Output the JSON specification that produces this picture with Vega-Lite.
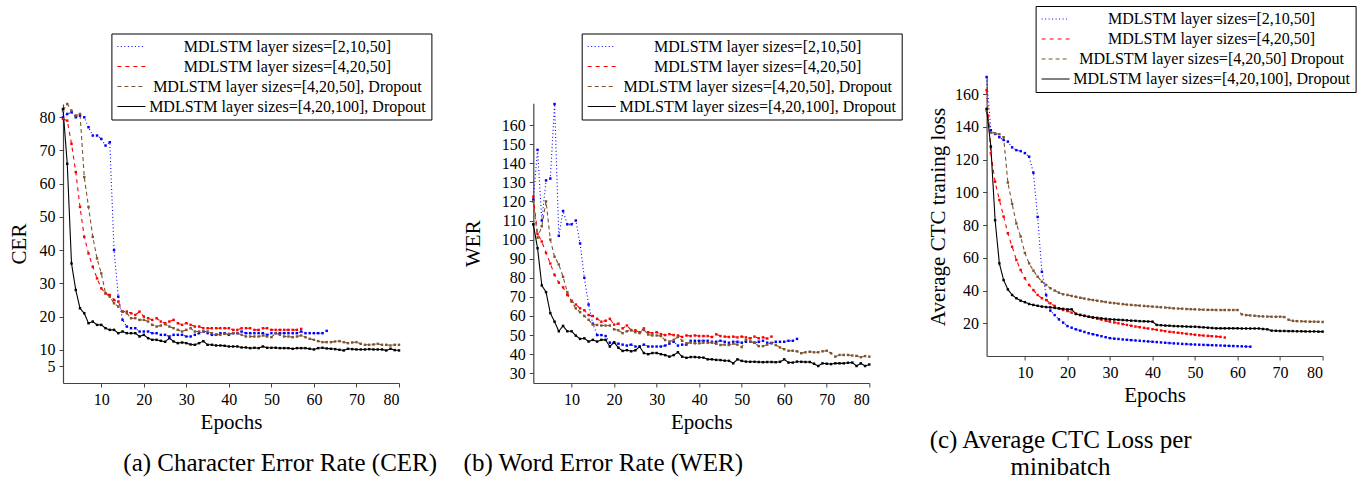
{
"$schema":"https://vega.github.io/schema/vega-lite/v6.json",
"padding":{"left":8,"top":5,"right":5,"bottom":5},
"config":{
 "font":"Liberation Serif",
 "view":{"stroke":null},
 "style":{"guide-label":{"font":"Liberation Serif","fontSize":16,"fill":"#000"},"guide-title":{"font":"Liberation Serif","fontSize":21,"fontWeight":"normal","fill":"#000"}},
 "axis":{"grid":false,"domain":true,"domainColor":"#444","domainWidth":1.2,"labelFont":"Liberation Serif","labelFontSize":16,"labelColor":"#000","titleFont":"Liberation Serif","titleFontSize":21,"titleFontWeight":"normal","titleColor":"#000","tickColor":"#444","tickSize":4,"tickWidth":1,"labelPadding":4},
 "legend":{"labelFont":"Liberation Serif"},
 "title":{"font":"Liberation Serif","fontSize":25,"fontWeight":"normal","color":"#000"}
},
"datasets":{
"a":[
{"k":"A","e":1,"v":80},{"k":"A","e":2,"v":81},{"k":"A","e":3,"v":81.5},{"k":"A","e":4,"v":80},{"k":"A","e":5,"v":80.5},{"k":"A","e":6,"v":80},{"k":"A","e":7,"v":77},{"k":"A","e":8,"v":74.5},{"k":"A","e":9,"v":74.5},{"k":"A","e":10,"v":73.5},
{"k":"A","e":11,"v":71.5},{"k":"A","e":12,"v":72.5},{"k":"A","e":13,"v":40},{"k":"A","e":14,"v":26},{"k":"A","e":15,"v":19},{"k":"A","e":16,"v":17},{"k":"A","e":17,"v":16.5},{"k":"A","e":18,"v":16.5},{"k":"A","e":19,"v":15.5},{"k":"A","e":20,"v":15.5},
{"k":"A","e":21,"v":15.5},{"k":"A","e":22,"v":15},{"k":"A","e":23,"v":15},{"k":"A","e":24,"v":14.5},{"k":"A","e":25,"v":14.5},{"k":"A","e":26,"v":14},{"k":"A","e":27,"v":14.5},{"k":"A","e":28,"v":14.5},{"k":"A","e":29,"v":14.5},{"k":"A","e":30,"v":14},
{"k":"A","e":31,"v":14},{"k":"A","e":32,"v":14.5},{"k":"A","e":33,"v":15},{"k":"A","e":34,"v":15.5},{"k":"A","e":35,"v":15},{"k":"A","e":36,"v":14.5},{"k":"A","e":37,"v":14.5},{"k":"A","e":38,"v":15},{"k":"A","e":39,"v":15},{"k":"A","e":40,"v":14.5},
{"k":"A","e":41,"v":15},{"k":"A","e":42,"v":15},{"k":"A","e":43,"v":15.5},{"k":"A","e":44,"v":15},{"k":"A","e":45,"v":15},{"k":"A","e":46,"v":15},{"k":"A","e":47,"v":15},{"k":"A","e":48,"v":15},{"k":"A","e":49,"v":14.5},{"k":"A","e":50,"v":15},
{"k":"A","e":51,"v":15},{"k":"A","e":52,"v":15},{"k":"A","e":53,"v":15},{"k":"A","e":54,"v":15},{"k":"A","e":55,"v":15},{"k":"A","e":56,"v":15},{"k":"A","e":57,"v":15.5},{"k":"A","e":58,"v":15},{"k":"A","e":59,"v":15},{"k":"A","e":60,"v":15},
{"k":"A","e":61,"v":15},{"k":"A","e":62,"v":15},{"k":"A","e":63,"v":15.7},
{"k":"B","e":1,"v":79.5},{"k":"B","e":2,"v":79},{"k":"B","e":3,"v":72},{"k":"B","e":4,"v":63.5},{"k":"B","e":5,"v":53},{"k":"B","e":6,"v":44},{"k":"B","e":7,"v":39},{"k":"B","e":8,"v":35},{"k":"B","e":9,"v":31.5},{"k":"B","e":10,"v":28.5},
{"k":"B","e":11,"v":27},{"k":"B","e":12,"v":26.5},{"k":"B","e":13,"v":25},{"k":"B","e":14,"v":24.5},{"k":"B","e":15,"v":21.5},{"k":"B","e":16,"v":21.5},{"k":"B","e":17,"v":21},{"k":"B","e":18,"v":20.5},{"k":"B","e":19,"v":21.5},{"k":"B","e":20,"v":20},
{"k":"B","e":21,"v":19.5},{"k":"B","e":22,"v":19},{"k":"B","e":23,"v":19.5},{"k":"B","e":24,"v":18.5},{"k":"B","e":25,"v":18},{"k":"B","e":26,"v":18.5},{"k":"B","e":27,"v":19},{"k":"B","e":28,"v":18},{"k":"B","e":29,"v":17.5},{"k":"B","e":30,"v":18},
{"k":"B","e":31,"v":17.5},{"k":"B","e":32,"v":17},{"k":"B","e":33,"v":17},{"k":"B","e":34,"v":16.5},{"k":"B","e":35,"v":16.5},{"k":"B","e":36,"v":16.5},{"k":"B","e":37,"v":16.5},{"k":"B","e":38,"v":16.5},{"k":"B","e":39,"v":16.5},{"k":"B","e":40,"v":16.5},
{"k":"B","e":41,"v":16},{"k":"B","e":42,"v":16},{"k":"B","e":43,"v":16.5},{"k":"B","e":44,"v":16.5},{"k":"B","e":45,"v":16.5},{"k":"B","e":46,"v":16},{"k":"B","e":47,"v":16},{"k":"B","e":48,"v":16.5},{"k":"B","e":49,"v":16.5},{"k":"B","e":50,"v":16},
{"k":"B","e":51,"v":16},{"k":"B","e":52,"v":16},{"k":"B","e":53,"v":16},{"k":"B","e":54,"v":16},{"k":"B","e":55,"v":16},{"k":"B","e":56,"v":16},{"k":"B","e":57,"v":16.3},
{"k":"C","e":1,"v":82},{"k":"C","e":2,"v":84},{"k":"C","e":3,"v":82},{"k":"C","e":4,"v":80.5},{"k":"C","e":5,"v":81},{"k":"C","e":6,"v":62},{"k":"C","e":7,"v":53},{"k":"C","e":8,"v":44},{"k":"C","e":9,"v":37.5},{"k":"C","e":10,"v":33},
{"k":"C","e":11,"v":27},{"k":"C","e":12,"v":26},{"k":"C","e":13,"v":24},{"k":"C","e":14,"v":23},{"k":"C","e":15,"v":21.5},{"k":"C","e":16,"v":21},{"k":"C","e":17,"v":19.5},{"k":"C","e":18,"v":19.5},{"k":"C","e":19,"v":19},{"k":"C","e":20,"v":19},
{"k":"C","e":21,"v":18.5},{"k":"C","e":22,"v":17.5},{"k":"C","e":23,"v":17},{"k":"C","e":24,"v":17.3},{"k":"C","e":25,"v":17.7},{"k":"C","e":26,"v":17},{"k":"C","e":27,"v":16.5},{"k":"C","e":28,"v":16},{"k":"C","e":29,"v":15.5},{"k":"C","e":30,"v":16},
{"k":"C","e":31,"v":16.5},{"k":"C","e":32,"v":15.5},{"k":"C","e":33,"v":15.5},{"k":"C","e":34,"v":15.5},{"k":"C","e":35,"v":15.5},{"k":"C","e":36,"v":15},{"k":"C","e":37,"v":14.6},{"k":"C","e":38,"v":14.5},{"k":"C","e":39,"v":14.8},{"k":"C","e":40,"v":14.8},
{"k":"C","e":41,"v":15},{"k":"C","e":42,"v":15},{"k":"C","e":43,"v":14.5},{"k":"C","e":44,"v":14},{"k":"C","e":45,"v":14},{"k":"C","e":46,"v":14},{"k":"C","e":47,"v":14},{"k":"C","e":48,"v":14.3},{"k":"C","e":49,"v":14},{"k":"C","e":50,"v":13.8},
{"k":"C","e":51,"v":15},{"k":"C","e":52,"v":14.5},{"k":"C","e":53,"v":14},{"k":"C","e":54,"v":14},{"k":"C","e":55,"v":13.8},{"k":"C","e":56,"v":14},{"k":"C","e":57,"v":14.3},{"k":"C","e":58,"v":13.8},{"k":"C","e":59,"v":13.3},{"k":"C","e":60,"v":13},
{"k":"C","e":61,"v":12.6},{"k":"C","e":62,"v":12.3},{"k":"C","e":63,"v":12.3},{"k":"C","e":64,"v":12.3},{"k":"C","e":65,"v":12.5},{"k":"C","e":66,"v":12.6},{"k":"C","e":67,"v":12.3},{"k":"C","e":68,"v":12},{"k":"C","e":69,"v":12.2},{"k":"C","e":70,"v":12.3},
{"k":"C","e":71,"v":11.8},{"k":"C","e":72,"v":11.5},{"k":"C","e":73,"v":11.5},{"k":"C","e":74,"v":11.6},{"k":"C","e":75,"v":11.8},{"k":"C","e":76,"v":11.5},{"k":"C","e":77,"v":11.5},{"k":"C","e":78,"v":11.3},{"k":"C","e":79,"v":11.5},{"k":"C","e":80,"v":11.5},
{"k":"D","e":1,"v":82.5},{"k":"D","e":2,"v":66},{"k":"D","e":3,"v":36},{"k":"D","e":4,"v":28},{"k":"D","e":5,"v":22.5},{"k":"D","e":6,"v":21},{"k":"D","e":7,"v":18},{"k":"D","e":8,"v":18.5},{"k":"D","e":9,"v":17.5},{"k":"D","e":10,"v":17.5},
{"k":"D","e":11,"v":16.5},{"k":"D","e":12,"v":16},{"k":"D","e":13,"v":16},{"k":"D","e":14,"v":15},{"k":"D","e":15,"v":15.5},{"k":"D","e":16,"v":15},{"k":"D","e":17,"v":15},{"k":"D","e":18,"v":15},{"k":"D","e":19,"v":14},{"k":"D","e":20,"v":14.5},
{"k":"D","e":21,"v":13.5},{"k":"D","e":22,"v":13},{"k":"D","e":23,"v":13},{"k":"D","e":24,"v":12.7},{"k":"D","e":25,"v":12.4},{"k":"D","e":26,"v":13.5},{"k":"D","e":27,"v":12.5},{"k":"D","e":28,"v":12},{"k":"D","e":29,"v":12.2},{"k":"D","e":30,"v":12},
{"k":"D","e":31,"v":11.6},{"k":"D","e":32,"v":11.5},{"k":"D","e":33,"v":12},{"k":"D","e":34,"v":12.6},{"k":"D","e":35,"v":11.5},{"k":"D","e":36,"v":11.5},{"k":"D","e":37,"v":11.3},{"k":"D","e":38,"v":11.3},{"k":"D","e":39,"v":11.2},{"k":"D","e":40,"v":11},
{"k":"D","e":41,"v":11},{"k":"D","e":42,"v":11},{"k":"D","e":43,"v":10.7},{"k":"D","e":44,"v":10.7},{"k":"D","e":45,"v":10.5},{"k":"D","e":46,"v":10.6},{"k":"D","e":47,"v":10.5},{"k":"D","e":48,"v":11},{"k":"D","e":49,"v":10.6},{"k":"D","e":50,"v":10.6},
{"k":"D","e":51,"v":10.6},{"k":"D","e":52,"v":10.5},{"k":"D","e":53,"v":10.5},{"k":"D","e":54,"v":10.5},{"k":"D","e":55,"v":10.3},{"k":"D","e":56,"v":10.5},{"k":"D","e":57,"v":10.5},{"k":"D","e":58,"v":10.5},{"k":"D","e":59,"v":10.3},{"k":"D","e":60,"v":10.1},
{"k":"D","e":61,"v":10.5},{"k":"D","e":62,"v":10.6},{"k":"D","e":63,"v":10.4},{"k":"D","e":64,"v":10.3},{"k":"D","e":65,"v":10.2},{"k":"D","e":66,"v":10},{"k":"D","e":67,"v":9.8},{"k":"D","e":68,"v":10.3},{"k":"D","e":69,"v":10.2},{"k":"D","e":70,"v":10.1},
{"k":"D","e":71,"v":10.1},{"k":"D","e":72,"v":10.1},{"k":"D","e":73,"v":10.2},{"k":"D","e":74,"v":10.1},{"k":"D","e":75,"v":10.1},{"k":"D","e":76,"v":10.1},{"k":"D","e":77,"v":9.8},{"k":"D","e":78,"v":10.3},{"k":"D","e":79,"v":9.9},{"k":"D","e":80,"v":9.8}
],
"b":[
{"k":"A","e":1,"v":121},{"k":"A","e":2,"v":147},{"k":"A","e":3,"v":110},{"k":"A","e":4,"v":131},{"k":"A","e":5,"v":132},{"k":"A","e":6,"v":171},{"k":"A","e":7,"v":102},{"k":"A","e":8,"v":115},{"k":"A","e":9,"v":108},{"k":"A","e":10,"v":108},
{"k":"A","e":11,"v":110},{"k":"A","e":12,"v":98},{"k":"A","e":13,"v":80},{"k":"A","e":14,"v":66},{"k":"A","e":15,"v":56},{"k":"A","e":16,"v":50},{"k":"A","e":17,"v":50},{"k":"A","e":18,"v":49.5},{"k":"A","e":19,"v":46},{"k":"A","e":20,"v":46},
{"k":"A","e":21,"v":45.5},{"k":"A","e":22,"v":45},{"k":"A","e":23,"v":44.5},{"k":"A","e":24,"v":45},{"k":"A","e":25,"v":44},{"k":"A","e":26,"v":44},{"k":"A","e":27,"v":45},{"k":"A","e":28,"v":44},{"k":"A","e":29,"v":44},{"k":"A","e":30,"v":44},
{"k":"A","e":31,"v":44},{"k":"A","e":32,"v":44.5},{"k":"A","e":33,"v":45.5},{"k":"A","e":34,"v":46.5},{"k":"A","e":35,"v":44.5},{"k":"A","e":36,"v":45},{"k":"A","e":37,"v":45},{"k":"A","e":38,"v":47},{"k":"A","e":39,"v":47},{"k":"A","e":40,"v":47},
{"k":"A","e":41,"v":47},{"k":"A","e":42,"v":47},{"k":"A","e":43,"v":46.5},{"k":"A","e":44,"v":46.5},{"k":"A","e":45,"v":47},{"k":"A","e":46,"v":46.5},{"k":"A","e":47,"v":46},{"k":"A","e":48,"v":46.5},{"k":"A","e":49,"v":46.5},{"k":"A","e":50,"v":46},
{"k":"A","e":51,"v":46.5},{"k":"A","e":52,"v":46.5},{"k":"A","e":53,"v":46},{"k":"A","e":54,"v":46.5},{"k":"A","e":55,"v":47},{"k":"A","e":56,"v":46},{"k":"A","e":57,"v":45.7},{"k":"A","e":58,"v":46.5},{"k":"A","e":59,"v":46.5},{"k":"A","e":60,"v":46.5},
{"k":"A","e":61,"v":47},{"k":"A","e":62,"v":47},{"k":"A","e":63,"v":48},
{"k":"B","e":1,"v":122.5},{"k":"B","e":2,"v":103},{"k":"B","e":3,"v":99},{"k":"B","e":4,"v":93},{"k":"B","e":5,"v":87.5},{"k":"B","e":6,"v":81.5},{"k":"B","e":7,"v":77.5},{"k":"B","e":8,"v":75},{"k":"B","e":9,"v":71},{"k":"B","e":10,"v":68},
{"k":"B","e":11,"v":66},{"k":"B","e":12,"v":64},{"k":"B","e":13,"v":63},{"k":"B","e":14,"v":60.5},{"k":"B","e":15,"v":60},{"k":"B","e":16,"v":58.5},{"k":"B","e":17,"v":57},{"k":"B","e":18,"v":57.5},{"k":"B","e":19,"v":58.5},{"k":"B","e":20,"v":55.5},
{"k":"B","e":21,"v":56},{"k":"B","e":22,"v":53.5},{"k":"B","e":23,"v":55},{"k":"B","e":24,"v":52.5},{"k":"B","e":25,"v":52.5},{"k":"B","e":26,"v":51.5},{"k":"B","e":27,"v":53.5},{"k":"B","e":28,"v":51.5},{"k":"B","e":29,"v":51},{"k":"B","e":30,"v":51.5},
{"k":"B","e":31,"v":50.5},{"k":"B","e":32,"v":50},{"k":"B","e":33,"v":50.5},{"k":"B","e":34,"v":50},{"k":"B","e":35,"v":49.8},{"k":"B","e":36,"v":49},{"k":"B","e":37,"v":49.8},{"k":"B","e":38,"v":49.5},{"k":"B","e":39,"v":49.8},{"k":"B","e":40,"v":49.5},
{"k":"B","e":41,"v":49.5},{"k":"B","e":42,"v":49.5},{"k":"B","e":43,"v":49},{"k":"B","e":44,"v":50.4},{"k":"B","e":45,"v":49.5},{"k":"B","e":46,"v":49.2},{"k":"B","e":47,"v":49},{"k":"B","e":48,"v":49.2},{"k":"B","e":49,"v":48.8},{"k":"B","e":50,"v":49.2},
{"k":"B","e":51,"v":48.8},{"k":"B","e":52,"v":48.3},{"k":"B","e":53,"v":49.2},{"k":"B","e":54,"v":48.3},{"k":"B","e":55,"v":48.8},{"k":"B","e":56,"v":48.2},{"k":"B","e":57,"v":49.2},
{"k":"C","e":1,"v":120},{"k":"C","e":2,"v":101},{"k":"C","e":3,"v":107},{"k":"C","e":4,"v":120},{"k":"C","e":5,"v":100},{"k":"C","e":6,"v":91},{"k":"C","e":7,"v":87},{"k":"C","e":8,"v":80.5},{"k":"C","e":9,"v":72.5},{"k":"C","e":10,"v":67.5},
{"k":"C","e":11,"v":64},{"k":"C","e":12,"v":62},{"k":"C","e":13,"v":60},{"k":"C","e":14,"v":58},{"k":"C","e":15,"v":55.5},{"k":"C","e":16,"v":55.3},{"k":"C","e":17,"v":55},{"k":"C","e":18,"v":55},{"k":"C","e":19,"v":55},{"k":"C","e":20,"v":53},
{"k":"C","e":21,"v":52.5},{"k":"C","e":22,"v":51},{"k":"C","e":23,"v":52},{"k":"C","e":24,"v":52.7},{"k":"C","e":25,"v":51.5},{"k":"C","e":26,"v":51},{"k":"C","e":27,"v":52.7},{"k":"C","e":28,"v":50.3},{"k":"C","e":29,"v":49.8},{"k":"C","e":30,"v":49.8},
{"k":"C","e":31,"v":49.5},{"k":"C","e":32,"v":47.4},{"k":"C","e":33,"v":46.6},{"k":"C","e":34,"v":47.5},{"k":"C","e":35,"v":49},{"k":"C","e":36,"v":47},{"k":"C","e":37,"v":45.7},{"k":"C","e":38,"v":46},{"k":"C","e":39,"v":45.7},{"k":"C","e":40,"v":45.7},
{"k":"C","e":41,"v":46},{"k":"C","e":42,"v":46},{"k":"C","e":43,"v":46},{"k":"C","e":44,"v":45.5},{"k":"C","e":45,"v":44.8},{"k":"C","e":46,"v":45},{"k":"C","e":47,"v":44.8},{"k":"C","e":48,"v":45.5},{"k":"C","e":49,"v":45},{"k":"C","e":50,"v":43.7},
{"k":"C","e":51,"v":47.5},{"k":"C","e":52,"v":46.6},{"k":"C","e":53,"v":46},{"k":"C","e":54,"v":44.2},{"k":"C","e":55,"v":44.2},{"k":"C","e":56,"v":45},{"k":"C","e":57,"v":46},{"k":"C","e":58,"v":44.8},{"k":"C","e":59,"v":43.5},{"k":"C","e":60,"v":42.6},
{"k":"C","e":61,"v":41.8},{"k":"C","e":62,"v":41.8},{"k":"C","e":63,"v":41.5},{"k":"C","e":64,"v":40.5},{"k":"C","e":65,"v":41},{"k":"C","e":66,"v":41.3},{"k":"C","e":67,"v":41},{"k":"C","e":68,"v":41},{"k":"C","e":69,"v":41.5},{"k":"C","e":70,"v":41.8},
{"k":"C","e":71,"v":40.5},{"k":"C","e":72,"v":38.7},{"k":"C","e":73,"v":39.6},{"k":"C","e":74,"v":39.6},{"k":"C","e":75,"v":39.6},{"k":"C","e":76,"v":39.3},{"k":"C","e":77,"v":39.1},{"k":"C","e":78,"v":38.4},{"k":"C","e":79,"v":39},{"k":"C","e":80,"v":38.7},
{"k":"D","e":1,"v":108},{"k":"D","e":2,"v":95.5},{"k":"D","e":3,"v":76},{"k":"D","e":4,"v":72.5},{"k":"D","e":5,"v":61.5},{"k":"D","e":6,"v":57},{"k":"D","e":7,"v":52},{"k":"D","e":8,"v":54.8},{"k":"D","e":9,"v":52},{"k":"D","e":10,"v":52},
{"k":"D","e":11,"v":49.7},{"k":"D","e":12,"v":48},{"k":"D","e":13,"v":48.3},{"k":"D","e":14,"v":46.6},{"k":"D","e":15,"v":47.5},{"k":"D","e":16,"v":46.6},{"k":"D","e":17,"v":47.5},{"k":"D","e":18,"v":47.5},{"k":"D","e":19,"v":44},{"k":"D","e":20,"v":46.2},
{"k":"D","e":21,"v":43.4},{"k":"D","e":22,"v":41.7},{"k":"D","e":23,"v":42.1},{"k":"D","e":24,"v":41.5},{"k":"D","e":25,"v":42},{"k":"D","e":26,"v":43.9},{"k":"D","e":27,"v":40.6},{"k":"D","e":28,"v":40},{"k":"D","e":29,"v":40.6},{"k":"D","e":30,"v":40.6},
{"k":"D","e":31,"v":40},{"k":"D","e":32,"v":39.5},{"k":"D","e":33,"v":38.7},{"k":"D","e":34,"v":39.5},{"k":"D","e":35,"v":41},{"k":"D","e":36,"v":38.7},{"k":"D","e":37,"v":38.1},{"k":"D","e":38,"v":38.5},{"k":"D","e":39,"v":38.5},{"k":"D","e":40,"v":38.3},
{"k":"D","e":41,"v":38.2},{"k":"D","e":42,"v":37.3},{"k":"D","e":43,"v":37.3},{"k":"D","e":44,"v":37},{"k":"D","e":45,"v":36.9},{"k":"D","e":46,"v":36.6},{"k":"D","e":47,"v":36.5},{"k":"D","e":48,"v":35.2},{"k":"D","e":49,"v":37.3},{"k":"D","e":50,"v":36.5},
{"k":"D","e":51,"v":36.1},{"k":"D","e":52,"v":36},{"k":"D","e":53,"v":36},{"k":"D","e":54,"v":35.9},{"k":"D","e":55,"v":35.8},{"k":"D","e":56,"v":35.9},{"k":"D","e":57,"v":35.9},{"k":"D","e":58,"v":35.8},{"k":"D","e":59,"v":36},{"k":"D","e":60,"v":37.3},
{"k":"D","e":61,"v":35.6},{"k":"D","e":62,"v":35.6},{"k":"D","e":63,"v":36.1},{"k":"D","e":64,"v":36},{"k":"D","e":65,"v":35.9},{"k":"D","e":66,"v":35.9},{"k":"D","e":67,"v":35},{"k":"D","e":68,"v":33.8},{"k":"D","e":69,"v":35.2},{"k":"D","e":70,"v":35},
{"k":"D","e":71,"v":34.8},{"k":"D","e":72,"v":35.2},{"k":"D","e":73,"v":35.2},{"k":"D","e":74,"v":35.2},{"k":"D","e":75,"v":35.5},{"k":"D","e":76,"v":35.6},{"k":"D","e":77,"v":33.8},{"k":"D","e":78,"v":35.2},{"k":"D","e":79,"v":33.8},{"k":"D","e":80,"v":34.6}
],
"c":[
{"k":"A","e":1,"v":170.5},{"k":"A","e":2,"v":138},{"k":"A","e":3,"v":135.7},{"k":"A","e":4,"v":133.7},{"k":"A","e":5,"v":132},{"k":"A","e":6,"v":131},{"k":"A","e":7,"v":127.5},{"k":"A","e":8,"v":125.8},{"k":"A","e":9,"v":125.2},{"k":"A","e":10,"v":124},
{"k":"A","e":11,"v":121.8},{"k":"A","e":12,"v":112},{"k":"A","e":13,"v":85},{"k":"A","e":14,"v":51.5},{"k":"A","e":15,"v":37.3},{"k":"A","e":16,"v":27.7},{"k":"A","e":17,"v":25},{"k":"A","e":18,"v":22.4},{"k":"A","e":19,"v":20.4},{"k":"A","e":20,"v":18.3},
{"k":"A","e":21,"v":17.3},{"k":"A","e":22,"v":16.3},{"k":"A","e":23,"v":15.5},{"k":"A","e":24,"v":14.7},{"k":"A","e":25,"v":13.9},{"k":"A","e":26,"v":13.3},{"k":"A","e":27,"v":12.7},{"k":"A","e":28,"v":12.1},{"k":"A","e":29,"v":11.5},{"k":"A","e":30,"v":10.9},
{"k":"A","e":31,"v":10.6},{"k":"A","e":32,"v":10.4},{"k":"A","e":33,"v":10.1},{"k":"A","e":34,"v":9.9},{"k":"A","e":35,"v":9.7},{"k":"A","e":36,"v":9.5},{"k":"A","e":37,"v":9.3},{"k":"A","e":38,"v":9.1},{"k":"A","e":39,"v":8.9},{"k":"A","e":40,"v":8.7},
{"k":"A","e":41,"v":8.5},{"k":"A","e":42,"v":8.3},{"k":"A","e":43,"v":8.1},{"k":"A","e":44,"v":7.9},{"k":"A","e":45,"v":7.7},{"k":"A","e":46,"v":7.6},{"k":"A","e":47,"v":7.4},{"k":"A","e":48,"v":7.3},{"k":"A","e":49,"v":7.1},{"k":"A","e":50,"v":7},
{"k":"A","e":51,"v":6.9},{"k":"A","e":52,"v":6.8},{"k":"A","e":53,"v":6.7},{"k":"A","e":54,"v":6.6},{"k":"A","e":55,"v":6.5},{"k":"A","e":56,"v":6.4},{"k":"A","e":57,"v":6.3},{"k":"A","e":58,"v":6.2},{"k":"A","e":59,"v":6.1},{"k":"A","e":60,"v":6},
{"k":"A","e":61,"v":5.9},{"k":"A","e":62,"v":5.8},{"k":"A","e":63,"v":5.7},
{"k":"B","e":1,"v":162.5},{"k":"B","e":2,"v":124},{"k":"B","e":3,"v":106.5},{"k":"B","e":4,"v":95.4},{"k":"B","e":5,"v":85.2},{"k":"B","e":6,"v":75},{"k":"B","e":7,"v":66.8},{"k":"B","e":8,"v":58.7},{"k":"B","e":9,"v":52.6},{"k":"B","e":10,"v":47.5},
{"k":"B","e":11,"v":43.4},{"k":"B","e":12,"v":40.3},{"k":"B","e":13,"v":37.3},{"k":"B","e":14,"v":35.3},{"k":"B","e":15,"v":34.2},{"k":"B","e":16,"v":32.2},{"k":"B","e":17,"v":30.6},{"k":"B","e":18,"v":29.1},{"k":"B","e":19,"v":28.1},{"k":"B","e":20,"v":27.5},
{"k":"B","e":21,"v":26.5},{"k":"B","e":22,"v":25.8},{"k":"B","e":23,"v":25.2},{"k":"B","e":24,"v":24.6},{"k":"B","e":25,"v":24},{"k":"B","e":26,"v":23.4},{"k":"B","e":27,"v":22.8},{"k":"B","e":28,"v":22.2},{"k":"B","e":29,"v":21.6},{"k":"B","e":30,"v":21},
{"k":"B","e":31,"v":20.5},{"k":"B","e":32,"v":20},{"k":"B","e":33,"v":19.5},{"k":"B","e":34,"v":19},{"k":"B","e":35,"v":18.5},{"k":"B","e":36,"v":18},{"k":"B","e":37,"v":17.6},{"k":"B","e":38,"v":17.2},{"k":"B","e":39,"v":16.8},{"k":"B","e":40,"v":16.4},
{"k":"B","e":41,"v":16},{"k":"B","e":42,"v":15.6},{"k":"B","e":43,"v":15.2},{"k":"B","e":44,"v":14.8},{"k":"B","e":45,"v":14.5},{"k":"B","e":46,"v":14.2},{"k":"B","e":47,"v":13.9},{"k":"B","e":48,"v":13.6},{"k":"B","e":49,"v":13.3},{"k":"B","e":50,"v":13},
{"k":"B","e":51,"v":12.7},{"k":"B","e":52,"v":12.5},{"k":"B","e":53,"v":12.3},{"k":"B","e":54,"v":12.1},{"k":"B","e":55,"v":11.9},{"k":"B","e":56,"v":11.7},{"k":"B","e":57,"v":11.3},
{"k":"C","e":1,"v":150},{"k":"C","e":2,"v":136.5},{"k":"C","e":3,"v":136},{"k":"C","e":4,"v":135.5},{"k":"C","e":5,"v":133.7},{"k":"C","e":6,"v":106},{"k":"C","e":7,"v":93},{"k":"C","e":8,"v":81},{"k":"C","e":9,"v":73},{"k":"C","e":10,"v":63},
{"k":"C","e":11,"v":56.6},{"k":"C","e":12,"v":52.2},{"k":"C","e":13,"v":48.5},{"k":"C","e":14,"v":45.4},{"k":"C","e":15,"v":43.4},{"k":"C","e":16,"v":41.4},{"k":"C","e":17,"v":40},{"k":"C","e":18,"v":38.7},{"k":"C","e":19,"v":37.7},{"k":"C","e":20,"v":37.3},
{"k":"C","e":21,"v":36.7},{"k":"C","e":22,"v":36.2},{"k":"C","e":23,"v":35.6},{"k":"C","e":24,"v":35.1},{"k":"C","e":25,"v":34.6},{"k":"C","e":26,"v":34.2},{"k":"C","e":27,"v":33.8},{"k":"C","e":28,"v":33.4},{"k":"C","e":29,"v":33},{"k":"C","e":30,"v":32.6},
{"k":"C","e":31,"v":32.3},{"k":"C","e":32,"v":32},{"k":"C","e":33,"v":31.7},{"k":"C","e":34,"v":31.4},{"k":"C","e":35,"v":31.2},{"k":"C","e":36,"v":31},{"k":"C","e":37,"v":30.8},{"k":"C","e":38,"v":30.6},{"k":"C","e":39,"v":30.4},{"k":"C","e":40,"v":30.2},
{"k":"C","e":41,"v":30},{"k":"C","e":42,"v":29.8},{"k":"C","e":43,"v":29.6},{"k":"C","e":44,"v":29.4},{"k":"C","e":45,"v":29.1},{"k":"C","e":46,"v":29},{"k":"C","e":47,"v":28.9},{"k":"C","e":48,"v":28.7},{"k":"C","e":49,"v":28.6},{"k":"C","e":50,"v":28.5},
{"k":"C","e":51,"v":28.4},{"k":"C","e":52,"v":28.3},{"k":"C","e":53,"v":28.2},{"k":"C","e":54,"v":28.2},{"k":"C","e":55,"v":28.1},{"k":"C","e":56,"v":28.1},{"k":"C","e":57,"v":28.1},{"k":"C","e":58,"v":28.1},{"k":"C","e":59,"v":28.1},{"k":"C","e":60,"v":28.1},
{"k":"C","e":61,"v":25.5},{"k":"C","e":62,"v":25},{"k":"C","e":63,"v":24.8},{"k":"C","e":64,"v":24.6},{"k":"C","e":65,"v":24.3},{"k":"C","e":66,"v":24.2},{"k":"C","e":67,"v":24.1},{"k":"C","e":68,"v":24},{"k":"C","e":69,"v":24},{"k":"C","e":70,"v":24},
{"k":"C","e":71,"v":23.8},{"k":"C","e":72,"v":22.2},{"k":"C","e":73,"v":21.5},{"k":"C","e":74,"v":21.3},{"k":"C","e":75,"v":21.2},{"k":"C","e":76,"v":21.1},{"k":"C","e":77,"v":21},{"k":"C","e":78,"v":21},{"k":"C","e":79,"v":20.9},{"k":"C","e":80,"v":20.8},
{"k":"D","e":1,"v":151},{"k":"D","e":2,"v":128},{"k":"D","e":3,"v":83},{"k":"D","e":4,"v":56.6},{"k":"D","e":5,"v":46.4},{"k":"D","e":6,"v":40.7},{"k":"D","e":7,"v":37.3},{"k":"D","e":8,"v":35.3},{"k":"D","e":9,"v":33.8},{"k":"D","e":10,"v":32.9},
{"k":"D","e":11,"v":31.8},{"k":"D","e":12,"v":31.2},{"k":"D","e":13,"v":30.7},{"k":"D","e":14,"v":30.2},{"k":"D","e":15,"v":29.9},{"k":"D","e":16,"v":29.7},{"k":"D","e":17,"v":29.4},{"k":"D","e":18,"v":29.1},{"k":"D","e":19,"v":28.8},{"k":"D","e":20,"v":28.5},
{"k":"D","e":21,"v":28.5},{"k":"D","e":22,"v":25.7},{"k":"D","e":23,"v":25},{"k":"D","e":24,"v":24.5},{"k":"D","e":25,"v":24},{"k":"D","e":26,"v":23.6},{"k":"D","e":27,"v":23.3},{"k":"D","e":28,"v":23},{"k":"D","e":29,"v":22.7},{"k":"D","e":30,"v":22.4},
{"k":"D","e":31,"v":22.3},{"k":"D","e":32,"v":22.1},{"k":"D","e":33,"v":22},{"k":"D","e":34,"v":21.8},{"k":"D","e":35,"v":21.6},{"k":"D","e":36,"v":21.5},{"k":"D","e":37,"v":21.3},{"k":"D","e":38,"v":21.2},{"k":"D","e":39,"v":21.1},{"k":"D","e":40,"v":21},
{"k":"D","e":41,"v":19},{"k":"D","e":42,"v":18.8},{"k":"D","e":43,"v":18.6},{"k":"D","e":44,"v":18.5},{"k":"D","e":45,"v":18.3},{"k":"D","e":46,"v":18.2},{"k":"D","e":47,"v":18.1},{"k":"D","e":48,"v":18},{"k":"D","e":49,"v":17.9},{"k":"D","e":50,"v":17.9},
{"k":"D","e":51,"v":17.7},{"k":"D","e":52,"v":17.5},{"k":"D","e":53,"v":17.3},{"k":"D","e":54,"v":17.1},{"k":"D","e":55,"v":16.9},{"k":"D","e":56,"v":16.9},{"k":"D","e":57,"v":16.9},{"k":"D","e":58,"v":16.9},{"k":"D","e":59,"v":16.9},{"k":"D","e":60,"v":16.9},
{"k":"D","e":61,"v":16.8},{"k":"D","e":62,"v":16.8},{"k":"D","e":63,"v":16.8},{"k":"D","e":64,"v":16.8},{"k":"D","e":65,"v":16.8},{"k":"D","e":66,"v":16.5},{"k":"D","e":67,"v":16.3},{"k":"D","e":68,"v":15.5},{"k":"D","e":69,"v":15.4},{"k":"D","e":70,"v":15.3},
{"k":"D","e":71,"v":15.3},{"k":"D","e":72,"v":15.2},{"k":"D","e":73,"v":15.2},{"k":"D","e":74,"v":15.1},{"k":"D","e":75,"v":15.1},{"k":"D","e":76,"v":15},{"k":"D","e":77,"v":15},{"k":"D","e":78,"v":15},{"k":"D","e":79,"v":14.9},{"k":"D","e":80,"v":14.9}
]
},
"hconcat":[
{
 "width":352.4,"height":306,
 "data":{"name":"a"},
 "title":{"text":"(a) Character Error Rate (CER)","orient":"bottom","anchor":"middle","dx":41,"offset":19,"font":"Liberation Serif","fontSize":25},
 "encoding":{
  "x":{"field":"e","type":"quantitative","scale":{"domain":[1,80],"range":[0,336],"nice":false,"zero":false},"axis":{"values":[10,20,30,40,50,60,70,80],"title":"Epochs","labelFont":"Liberation Serif","titleFont":"Liberation Serif","labelFontSize":16,"titleFontSize":21}},
  "y":{"field":"v","type":"quantitative","scale":{"domain":[0,84],"range":[306,27],"nice":false,"zero":false},"axis":{"values":[5,10,20,30,40,50,60,70,80],"title":"CER","titlePadding":10,"labelFont":"Liberation Serif","titleFont":"Liberation Serif","labelFontSize":16,"titleFontSize":21}}
 },
 "layer":[
  {"mark":{"type":"line","strokeWidth":1.1},
   "encoding":{
    "color":{"field":"k","type":"nominal","scale":{"domain":["A","B","C","D"],"range":["#0000ff","#ff0000","#7f5530","#000000"]},
      "legend":{"orient":"none","legendX":48.4,"legendY":-43.5,"title":null,"symbolType":"M-1,0L3,0","symbolSize":196,"symbolStrokeWidth":1.2,"labelAlign":"center","labelOffset":155,"labelLimit":600,"labelFontSize":16,"labelFont":"Liberation Serif","labelColor":"#000","strokeColor":"#000","fillColor":"#fff","padding":5,"rowPadding":4,
      "labelExpr":"datum.label=='A'?'MDLSTM layer sizes=[2,10,50]':datum.label=='B'?'MDLSTM layer sizes=[4,20,50]':datum.label=='C'?'MDLSTM layer sizes=[4,20,50], Dropout':'MDLSTM layer sizes=[4,20,100], Dropout'"}},
    "strokeDash":{"field":"k","type":"nominal","scale":{"domain":["A","B","C","D"],"range":[[1,2.5],[4,4],[4,3],[1,0]]},
      "legend":{"orient":"none","legendX":48.4,"legendY":-43.5,"title":null,"symbolType":"M-1,0L3,0","symbolSize":196,"symbolStrokeWidth":1.2,"labelAlign":"center","labelOffset":155,"labelLimit":600,"labelFontSize":16,"labelFont":"Liberation Serif","labelColor":"#000","strokeColor":"#000","fillColor":"#fff","padding":5,"rowPadding":4,
      "labelExpr":"datum.label=='A'?'MDLSTM layer sizes=[2,10,50]':datum.label=='B'?'MDLSTM layer sizes=[4,20,50]':datum.label=='C'?'MDLSTM layer sizes=[4,20,50], Dropout':'MDLSTM layer sizes=[4,20,100], Dropout'"}}
   }},
  {"mark":{"type":"point","shape":"square","filled":true,"size":6,"opacity":1},
   "encoding":{"fill":{"field":"k","type":"nominal","scale":{"domain":["A","B","C","D"],"range":["#0000ff","#ff0000","#7f5530","#000000"]},"legend":null}}},
  {"data":{"values":[{}]},"mark":{"type":"point","shape":"M-0.7,1L0,0L0.7,1","size":49,"filled":false,"color":"#444","strokeWidth":1,"opacity":1},"encoding":{"x":{"datum":1},"y":{"datum":84}}},
  {"data":{"values":[{}]},"mark":{"type":"point","shape":"M-1,-0.7L0,0L-1,0.7","size":49,"filled":false,"color":"#444","strokeWidth":1,"opacity":1},"encoding":{"x":{"datum":80},"y":{"datum":0}}}
 ]
},
{
 "width":336,"height":306,
 "data":{"name":"b"},
 "title":{"text":"(b) Word Error Rate (WER)","orient":"bottom","anchor":"middle","dx":-98,"offset":19,"font":"Liberation Serif","fontSize":25},
 "encoding":{
  "x":{"field":"e","type":"quantitative","scale":{"domain":[1,80],"nice":false,"zero":false},"axis":{"values":[10,20,30,40,50,60,70,80],"title":"Epochs","labelFont":"Liberation Serif","titleFont":"Liberation Serif","labelFontSize":16,"titleFontSize":21}},
  "y":{"field":"v","type":"quantitative","scale":{"domain":[24.9,171.4],"range":[306,26.3],"nice":false,"zero":false},"axis":{"values":[30,40,50,60,70,80,90,100,110,120,130,140,150,160],"title":"WER","titlePadding":18,"labelFont":"Liberation Serif","titleFont":"Liberation Serif","labelFontSize":16,"titleFontSize":21}}
 },
 "layer":[
  {"mark":{"type":"line","strokeWidth":1.1},
   "encoding":{
    "color":{"field":"k","type":"nominal","scale":{"domain":["A","B","C","D"],"range":["#0000ff","#ff0000","#7f5530","#000000"]},
      "legend":{"orient":"none","legendX":48.4,"legendY":-43.5,"title":null,"symbolType":"M-1,0L3,0","symbolSize":196,"symbolStrokeWidth":1.2,"labelAlign":"center","labelOffset":155,"labelLimit":600,"labelFontSize":16,"labelFont":"Liberation Serif","labelColor":"#000","strokeColor":"#000","fillColor":"#fff","padding":5,"rowPadding":4,
      "labelExpr":"datum.label=='A'?'MDLSTM layer sizes=[2,10,50]':datum.label=='B'?'MDLSTM layer sizes=[4,20,50]':datum.label=='C'?'MDLSTM layer sizes=[4,20,50], Dropout':'MDLSTM layer sizes=[4,20,100], Dropout'"}},
    "strokeDash":{"field":"k","type":"nominal","scale":{"domain":["A","B","C","D"],"range":[[1,2.5],[4,4],[4,3],[1,0]]},
      "legend":{"orient":"none","legendX":48.4,"legendY":-43.5,"title":null,"symbolType":"M-1,0L3,0","symbolSize":196,"symbolStrokeWidth":1.2,"labelAlign":"center","labelOffset":155,"labelLimit":600,"labelFontSize":16,"labelFont":"Liberation Serif","labelColor":"#000","strokeColor":"#000","fillColor":"#fff","padding":5,"rowPadding":4,
      "labelExpr":"datum.label=='A'?'MDLSTM layer sizes=[2,10,50]':datum.label=='B'?'MDLSTM layer sizes=[4,20,50]':datum.label=='C'?'MDLSTM layer sizes=[4,20,50], Dropout':'MDLSTM layer sizes=[4,20,100], Dropout'"}}
   }},
  {"mark":{"type":"point","shape":"square","filled":true,"size":6,"opacity":1},
   "encoding":{"fill":{"field":"k","type":"nominal","scale":{"domain":["A","B","C","D"],"range":["#0000ff","#ff0000","#7f5530","#000000"]},"legend":null}}},
  {"data":{"values":[{}]},"mark":{"type":"point","shape":"M-0.7,1L0,0L0.7,1","size":49,"filled":false,"color":"#444","strokeWidth":1,"opacity":1},"encoding":{"x":{"datum":1},"y":{"datum":171.4}}},
  {"data":{"values":[{}]},"mark":{"type":"point","shape":"M-1,-0.7L0,0L-1,0.7","size":49,"filled":false,"color":"#444","strokeWidth":1,"opacity":1},"encoding":{"x":{"datum":80},"y":{"datum":24.9}}}
 ]
},
{
 "width":336,"height":279,
 "data":{"name":"c"},
 "title":{"text":["(c) Average CTC Loss per","minibatch"],"orient":"bottom","anchor":"middle","dx":-94,"offset":23,"lineHeight":27,"font":"Liberation Serif","fontSize":25},
 "encoding":{
  "x":{"field":"e","type":"quantitative","scale":{"domain":[1,80],"nice":false,"zero":false},"axis":{"values":[10,20,30,40,50,60,70,80],"title":"Epochs","labelFont":"Liberation Serif","titleFont":"Liberation Serif","labelFontSize":16,"titleFontSize":21}},
  "y":{"field":"v","type":"quantitative","scale":{"domain":[0,170.5],"nice":false,"zero":false},"axis":{"values":[20,40,60,80,100,120,140,160],"title":"Average CTC traning loss","titlePadding":6,"labelFont":"Liberation Serif","titleFont":"Liberation Serif","labelFontSize":16,"titleFontSize":21}}
 },
 "layer":[
  {"mark":{"type":"line","strokeWidth":1.1},
   "encoding":{
    "color":{"field":"k","type":"nominal","scale":{"domain":["A","B","C","D"],"range":["#0000ff","#ff0000","#7f5530","#000000"]},
      "legend":{"orient":"none","legendX":49,"legendY":-71,"title":null,"symbolType":"M-1,0L3,0","symbolSize":196,"symbolStrokeWidth":1.2,"labelAlign":"center","labelOffset":155,"labelLimit":600,"labelFontSize":16,"labelFont":"Liberation Serif","labelColor":"#000","strokeColor":"#000","fillColor":"#fff","padding":5,"rowPadding":4,
      "labelExpr":"datum.label=='A'?'MDLSTM layer sizes=[2,10,50]':datum.label=='B'?'MDLSTM layer sizes=[4,20,50]':datum.label=='C'?'MDLSTM layer sizes=[4,20,50] Dropout':'MDLSTM layer sizes=[4,20,100], Dropout'"}},
    "strokeDash":{"field":"k","type":"nominal","scale":{"domain":["A","B","C","D"],"range":[[1,2.5],[4,4],[4,3],[1,0]]},
      "legend":{"orient":"none","legendX":49,"legendY":-71,"title":null,"symbolType":"M-1,0L3,0","symbolSize":196,"symbolStrokeWidth":1.2,"labelAlign":"center","labelOffset":155,"labelLimit":600,"labelFontSize":16,"labelFont":"Liberation Serif","labelColor":"#000","strokeColor":"#000","fillColor":"#fff","padding":5,"rowPadding":4,
      "labelExpr":"datum.label=='A'?'MDLSTM layer sizes=[2,10,50]':datum.label=='B'?'MDLSTM layer sizes=[4,20,50]':datum.label=='C'?'MDLSTM layer sizes=[4,20,50] Dropout':'MDLSTM layer sizes=[4,20,100], Dropout'"}}
   }},
  {"mark":{"type":"point","shape":"square","filled":true,"size":6,"opacity":1},
   "encoding":{"fill":{"field":"k","type":"nominal","scale":{"domain":["A","B","C","D"],"range":["#0000ff","#ff0000","#7f5530","#000000"]},"legend":null}}},
  {"data":{"values":[{}]},"mark":{"type":"point","shape":"M-0.7,1L0,0L0.7,1","size":49,"filled":false,"color":"#444","strokeWidth":1,"opacity":1},"encoding":{"x":{"datum":1},"y":{"datum":170.5}}},
  {"data":{"values":[{}]},"mark":{"type":"point","shape":"M-1,-0.7L0,0L-1,0.7","size":49,"filled":false,"color":"#444","strokeWidth":1,"opacity":1},"encoding":{"x":{"datum":80},"y":{"datum":0}}}
 ]
}
],
"spacing":117.3,
"bounds":"flush",
"resolve":{"scale":{"color":"independent","strokeDash":"independent","fill":"independent","x":"independent","y":"independent"},"legend":{"color":"independent","strokeDash":"independent"}}
}
